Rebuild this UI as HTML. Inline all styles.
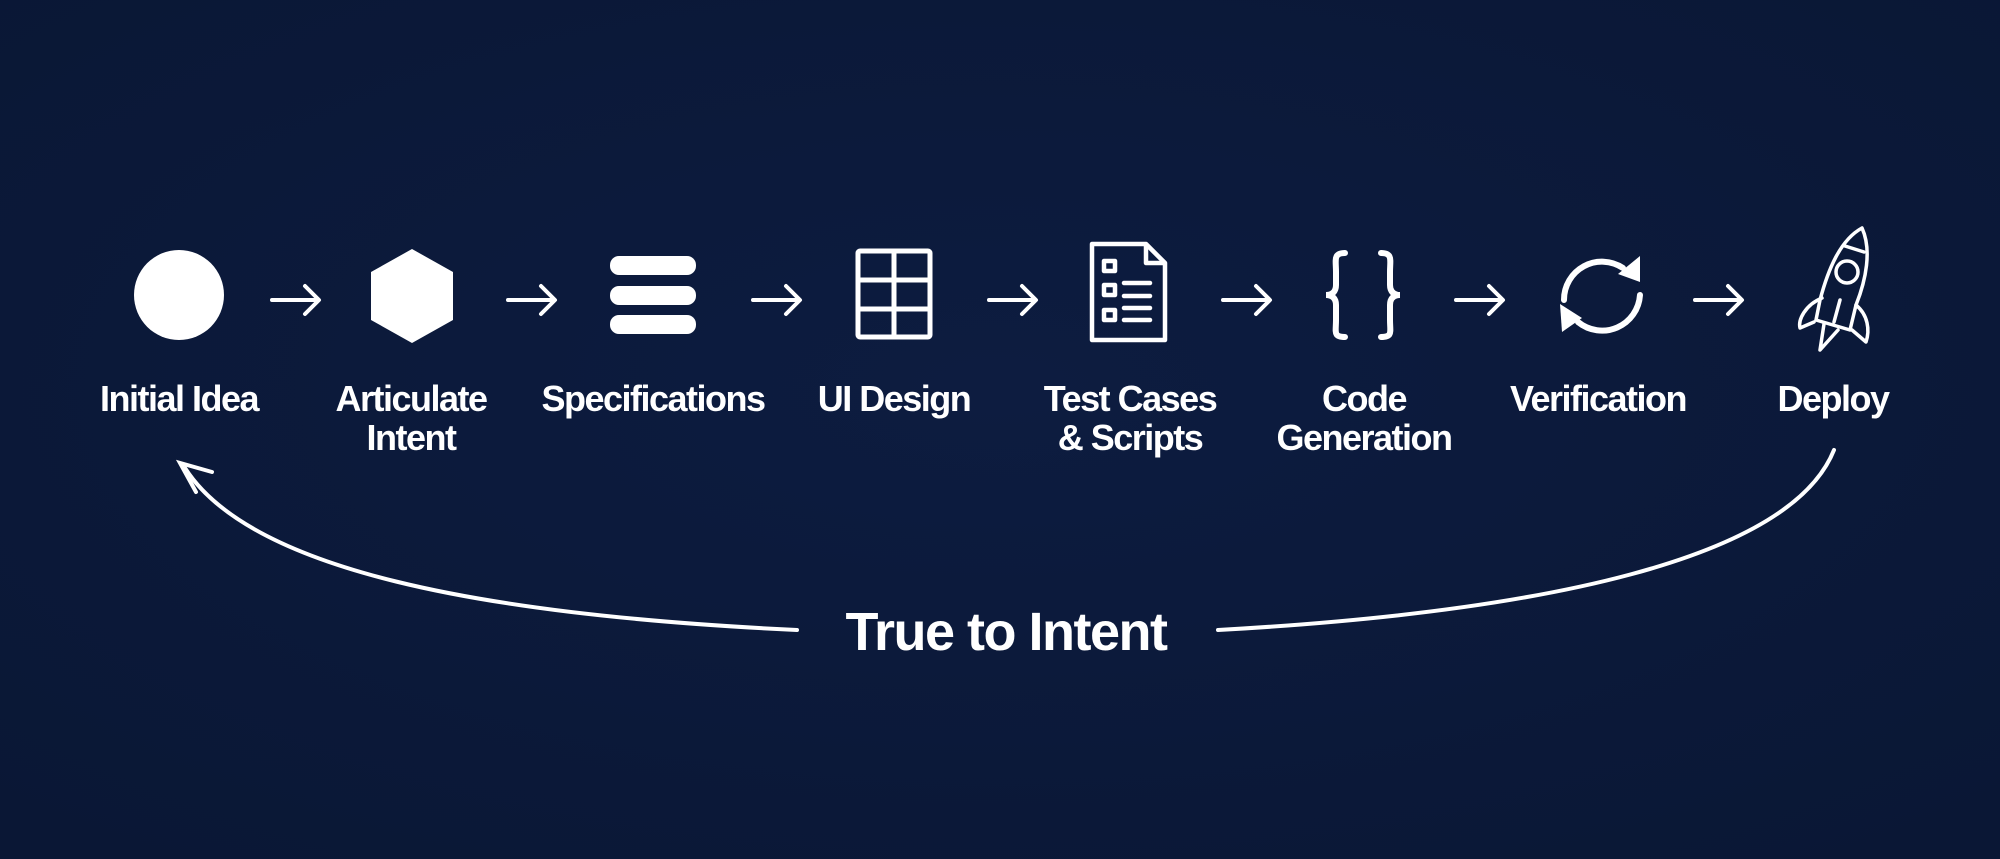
<!DOCTYPE html>
<html><head><meta charset="utf-8"><style>
html,body{margin:0;padding:0;background:#0c1a3d;}
svg{display:block}
text{font-family:"Liberation Sans",sans-serif;font-weight:bold;fill:#fff;letter-spacing:-1.5px}
</style></head><body>
<svg width="2000" height="859" viewBox="0 0 2000 859" xmlns="http://www.w3.org/2000/svg">
<defs>
<radialGradient id="bg" cx="50%" cy="45%" r="70%">
<stop offset="0" stop-color="#0d1c40"/><stop offset="1" stop-color="#0a1735"/>
</radialGradient>
</defs>
<rect width="2000" height="859" fill="url(#bg)"/>
<!-- arrows -->
<g stroke="#fff" stroke-width="4" fill="none" stroke-linecap="round" stroke-linejoin="round">
<g id="a"><path d="M272 300 H318 M305 286 L319 300 L305 314"/></g>
<use href="#a" x="236"/>
<use href="#a" x="481"/>
<use href="#a" x="717"/>
<use href="#a" x="951"/>
<use href="#a" x="1184"/>
<use href="#a" x="1423"/>
</g>
<!-- circle -->
<circle cx="179" cy="295" r="45" fill="#fff"/>
<!-- hexagon -->
<polygon points="412,249 453,272 453,320 412,343 371,320 371,272" fill="#fff"/>
<!-- specs -->
<g fill="#fff"><rect x="610" y="256" width="86" height="19" rx="9"/><rect x="610" y="286" width="86" height="19" rx="9"/><rect x="610" y="315" width="86" height="19" rx="9"/></g>
<!-- grid -->
<g stroke="#fff" stroke-width="5" fill="none"><rect x="858" y="251" width="72" height="86" rx="2"/><path d="M894 251V337 M858 280H930 M858 309H930"/></g>
<!-- doc -->
<g stroke="#fff" stroke-width="4.5" fill="none" stroke-linejoin="round">
<path d="M1092 244 H1146 L1165 263 V340 H1092 Z"/><path d="M1146 244 V263 H1165"/>
<rect x="1104" y="261" width="11" height="10"/><rect x="1104" y="285" width="11" height="10"/><rect x="1104" y="310" width="11" height="10"/>
<path d="M1124 283H1150 M1124 296H1150 M1124 308H1150 M1124 320H1150" stroke-linecap="round"/>
</g>
<!-- braces -->
<g stroke="#fff" stroke-width="6" fill="none" stroke-linecap="round">
<path d="M1345 253 C1333 253 1336 260 1336 272 V285 C1336 292 1332 295 1326 295 C1332 295 1336 298 1336 305 V320 C1336 332 1333 337 1345 337"/>
<path d="M1381 253 C1393 253 1390 260 1390 272 V285 C1390 292 1394 295 1400 295 C1394 295 1390 298 1390 305 V320 C1390 332 1393 337 1381 337"/>
</g>
<!-- verification -->
<g fill="none" stroke="#fff" stroke-width="6" stroke-linecap="round">
<path d="M1623 268 A38 38 0 0 0 1564 300"/>
<path d="M1578 322 A38 38 0 0 0 1640 295"/>
</g>
<g fill="#fff"><polygon points="1640,256 1640,282 1618,274"/><polygon points="1560,304 1562,332 1582,318"/></g>
<!-- rocket -->
<g stroke="#fff" stroke-width="3.5" fill="none" stroke-linejoin="round" stroke-linecap="round">
<path d="M1862 228 C1840 240 1828 270 1820 300 L1816 320 L1850 330 L1856 305 C1866 280 1872 250 1862 228 Z"/>
<path d="M1845 246 L1864 252"/>
<circle cx="1847" cy="272" r="11"/>
<path d="M1822 298 C1805 305 1798 320 1800 328 L1814 322"/>
<path d="M1856 305 C1868 315 1870 330 1866 342 L1852 330"/>
<path d="M1824 324 L1820 350 L1838 330"/>
<path d="M1840 300 L1834 322"/>
</g>
<!-- labels -->
<g font-size="36" text-anchor="middle">
<text x="179" y="411">Initial Idea</text>
<text x="411" y="411">Articulate</text><text x="411" y="450">Intent</text>
<text x="653" y="411">Specifications</text>
<text x="894" y="411">UI Design</text>
<text x="1130" y="411">Test Cases</text><text x="1130" y="450">&amp; Scripts</text>
<text x="1364" y="411">Code</text><text x="1364" y="450">Generation</text>
<text x="1598" y="411">Verification</text>
<text x="1833" y="411">Deploy</text>
</g>
<!-- feedback curves -->
<g stroke="#fff" stroke-width="4" fill="none" stroke-linecap="round">
<path d="M797 630 C480 615 250 570 185 468"/>
<path d="M196 492 L180 463 L212 472"/>
<path d="M1218 630 C1540 612 1790 560 1834 450"/>
</g>
<text x="1006" y="650" font-size="54" text-anchor="middle">True to Intent</text>
</svg>
</body></html>
